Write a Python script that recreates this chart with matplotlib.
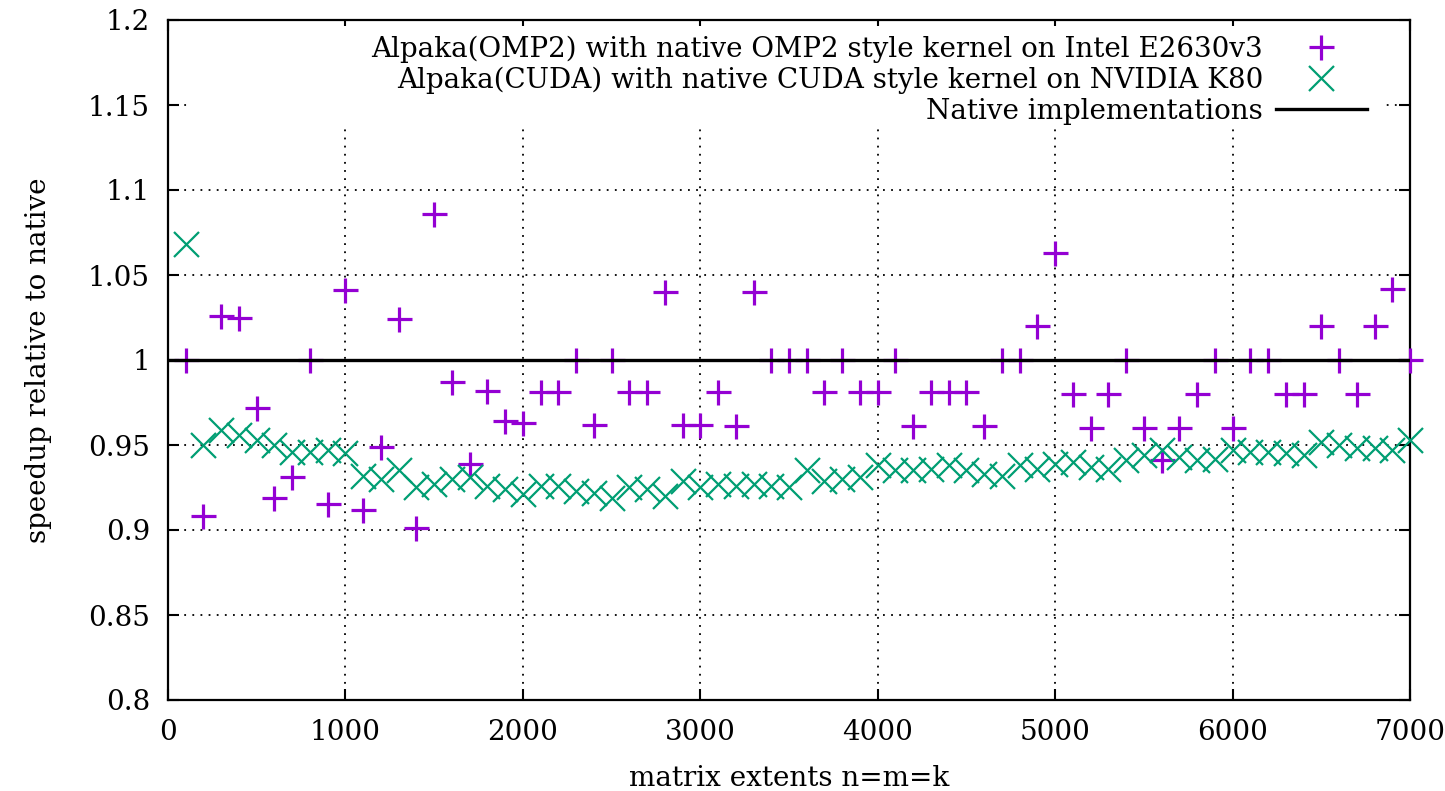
import matplotlib
matplotlib.use("Agg")
import matplotlib.pyplot as plt
from matplotlib.patches import Rectangle

# matrix extents n=m=k
sizes = list(range(100, 7001, 100))

omp2_speedup = [
    1.000, 0.908, 1.026, 1.025, 0.972, 0.919, 0.931, 1.000, 0.915, 1.041,
    0.912, 0.949, 1.024, 0.901, 1.086, 0.987, 0.939, 0.982, 0.964, 0.963,
    0.981, 0.981, 1.000, 0.962, 1.000, 0.981, 0.981, 1.040, 0.962, 0.962,
    0.981, 0.961, 1.040, 1.000, 1.000, 1.000, 0.981, 1.000, 0.981, 0.981,
    1.000, 0.961, 0.981, 0.981, 0.981, 0.961, 1.000, 1.000, 1.020, 1.063,
    0.980, 0.960, 0.980, 1.000, 0.960, 0.941, 0.960, 0.980, 1.000, 0.960,
    1.000, 1.000, 0.980, 0.980, 1.020, 1.000, 0.980, 1.020, 1.042, 1.000,
]

cuda_speedup = [
    1.068, 0.950, 0.959, 0.956, 0.953, 0.950, 0.946, 0.946, 0.947, 0.945,
    0.932, 0.930, 0.935, 0.925, 0.927, 0.930, 0.931, 0.926, 0.924, 0.921,
    0.926, 0.926, 0.923, 0.922, 0.919, 0.925, 0.924, 0.920, 0.929, 0.925,
    0.927, 0.926, 0.927, 0.926, 0.925, 0.935, 0.929, 0.930, 0.931, 0.938,
    0.935, 0.935, 0.936, 0.938, 0.935, 0.933, 0.932, 0.938, 0.936, 0.939,
    0.940, 0.937, 0.936, 0.941, 0.944, 0.947, 0.943, 0.941, 0.942, 0.947,
    0.946, 0.946, 0.945, 0.944, 0.952, 0.950, 0.948, 0.948, 0.947, 0.953,
]

native_x = [0, 7000]
native_y = [1.0, 1.0]

labels = [
    "Alpaka(OMP2) with native OMP2 style kernel on Intel E2630v3",
    "Alpaka(CUDA) with native CUDA style kernel on NVIDIA K80",
    "Native implementations",
]

plt.rcParams["font.family"] = "DejaVu Serif"
plt.rcParams["font.size"] = 20

W, H = 1445, 791
fig = plt.figure(figsize=(W / 100, H / 100), dpi=100)
ax = fig.add_axes([168 / W, 1 - 700 / H, (1410 - 168) / W, (700 - 20) / H])

ax.plot(sizes, omp2_speedup, linestyle="none", marker="+", markersize=18,
        markeredgewidth=2.3, color="#9400d3", label=labels[0], clip_on=False, zorder=3)
ax.plot(sizes, cuda_speedup, linestyle="none", marker="x", markersize=18,
        markeredgewidth=1.6, color="#009e73", label=labels[1], clip_on=False, zorder=3)
ax.plot(native_x, native_y, color="black", linewidth=2.4, label=labels[2], zorder=4)

ax.set_xlim(0, 7000)
ax.set_ylim(0.8, 1.2)
ax.set_xticks(range(0, 7001, 1000))
ax.set_yticks([0.8, 0.85, 0.9, 0.95, 1.0, 1.05, 1.1, 1.15, 1.2])
ax.set_yticklabels(["0.8", "0.85", "0.9", "0.95", "1", "1.05", "1.1", "1.15", "1.2"])
ax.grid(True, color="black", linestyle=(0, (1, 3.5)), linewidth=1.3)
ax.tick_params(direction="in", length=8, width=1.5, top=True, right=True)
ax.tick_params(axis="y", pad=13)
ax.tick_params(axis="x", pad=14)
for s in ax.spines.values():
    s.set_linewidth(1.6)

ax.set_xlabel("matrix extents n=m=k", labelpad=13)
ax.set_ylabel("speedup relative to native", labelpad=26)

# opaque key area, hides the grid behind the legend like gnuplot does
ax.add_patch(Rectangle(((188 - 168) / 1242, (700 - 125) / 680), (1385 - 188) / 1242,
                       (125 - 26) / 680, transform=ax.transAxes,
                       facecolor="white", edgecolor="none", zorder=2))

leg = ax.legend(loc="upper right", bbox_to_anchor=(0.97, 0.985), markerfirst=False,
                frameon=False, handlelength=3.3, handletextpad=0.45,
                labelspacing=0.13, borderaxespad=0.1, borderpad=0.1)
for t in leg.get_texts():
    t.set_ha("right")
leg._legend_box.align = "right"

plt.savefig("out.png", dpi=100)
